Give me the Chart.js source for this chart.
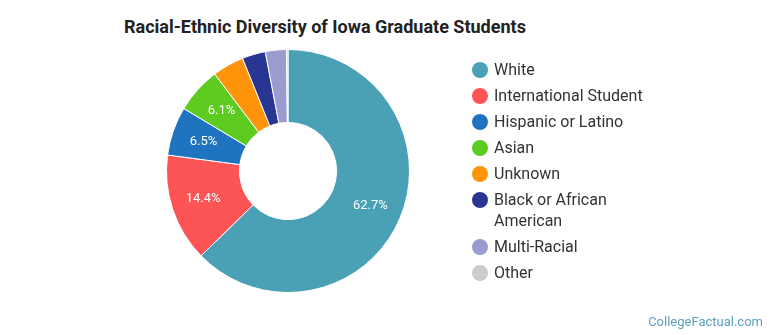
<!DOCTYPE html>
<html>
<head>
<meta charset="utf-8">
<script src="https://cdn.jsdelivr.net/npm/chart.js@4"></script>
<style>
    body { margin: 0; background: #fff; font-family: Roboto, "Noto Sans", sans-serif; }
    #wrap { position: relative; width: 770px; height: 335px; overflow: hidden; }
    #title { position: absolute; left: 124px; top: 16px; font-size: 18px; font-weight: bold; color: #222; white-space: nowrap; }
    #pie { position: absolute; left: 0; top: 0; }
    #legend { position: absolute; left: 472px; top: 59px; }
    .item { display: flex; align-items: flex-start; margin-bottom: 5px; }
    .dot { width: 16px; height: 16px; border-radius: 50%; margin-top: 3px; margin-right: 6px; flex: none; }
    .txt { font-size: 16px; line-height: 21px; color: #333; width: 155px; }
    #credit { position: absolute; right: 7px; bottom: 6px; font-size: 13px; color: #5b9fbf; }
</style>
</head>
<body>
<div id="wrap">
    <div id="title">Racial-Ethnic Diversity of Iowa Graduate Students</div>
    <canvas id="pie" width="770" height="335"></canvas>
    <div id="legend"></div>
    <div id="credit">CollegeFactual.com</div>
</div>
<script>
// Chart data
const groups = ['White', 'International Student', 'Hispanic or Latino', 'Asian', 'Unknown', 'Black or African American', 'Multi-Racial', 'Other'];
const shares = [62.7, 14.4, 6.5, 6.1, 4.2, 3.1, 2.8, 0.2];
const colors = ['#4aa0b4', '#fd5456', '#1f74c0', '#5ecb21', '#fd9409', '#283593', '#9b9bcf', '#cccccc'];

// Build HTML legend
const legendBox = document.getElementById('legend');
groups.forEach((name, i) => {
    const row = document.createElement('div');
    row.className = 'item';
    row.innerHTML = `<span class="dot" style="background:${colors[i]}"></span><span class="txt">${name}</span>`;
    legendBox.appendChild(row);
});

// Percent labels drawn inside the bigger slices, a bit outside the ring middle
const sliceLabels = {
    id: 'sliceLabels',
    afterDatasetsDraw(chart) {
        const ctx = chart.ctx;
        const meta = chart.getDatasetMeta(0);
        ctx.save();
        ctx.font = '13px Roboto';
        ctx.fillStyle = '#fff';
        ctx.textAlign = 'center';
        ctx.textBaseline = 'middle';
        meta.data.forEach((arc, i) => {
            if (shares[i] < 5) return;
            const a = (arc.startAngle + arc.endAngle) / 2;
            const r = arc.innerRadius + (arc.outerRadius - arc.innerRadius) * 0.56;
            ctx.fillText(shares[i].toFixed(1) + '%', arc.x + Math.cos(a) * r, arc.y + Math.sin(a) * r);
        });
        ctx.restore();
    }
};

const ctx = document.getElementById('pie').getContext('2d');
const pieChart = new Chart(ctx, {
    type: 'doughnut',
    data: {
        labels: groups,
        datasets: [{
            data: shares,
            backgroundColor: colors,
            borderColor: '#fff',
            borderWidth: 1
        }]
    },
    options: {
        responsive: false,
        animation: false,
        cutout: '40%',
        layout: {
            padding: { left: 166, right: 360, top: 49, bottom: 42 }
        },
        plugins: {
            legend: { display: false },
            tooltip: { enabled: false }
        }
    },
    plugins: [sliceLabels]
});
</script>
</body>
</html>
